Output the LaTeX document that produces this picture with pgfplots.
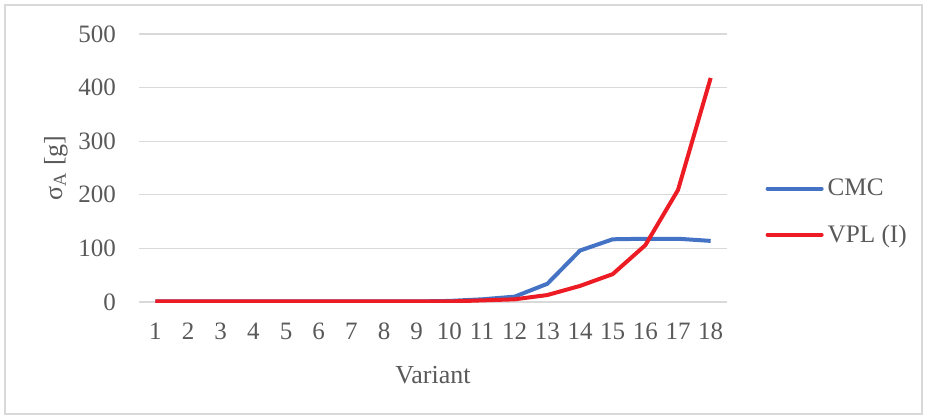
\documentclass[border=0pt]{standalone}
\usepackage{pgfplots}
\pgfplotsset{compat=1.18}
\usepackage{fontspec}
\setmainfont{Liberation Serif}
\definecolor{cmcblue}{HTML}{4472C4}
\definecolor{vplred}{HTML}{ED1C24}
\definecolor{txtgray}{HTML}{595959}
\definecolor{gridgray}{HTML}{D9D9D9}
\begin{document}
\begin{tikzpicture}[x=1pt,y=1pt]
\useasboundingbox (0,0) rectangle (463.5,209.5);
\draw[gridgray, line width=0.6pt] (2.5,2.5) rectangle (461,207);
\begin{axis}[
    at={(69.5pt,58.5pt)}, anchor=south west,
    scale only axis, width=294pt, height=134pt,
    xmin=0.5, xmax=18.5, ymin=0, ymax=500,
    xtick={1,...,18}, ytick={0,100,...,500},
    axis line style={draw=none},
    major tick length=0pt,
    ymajorgrids, grid style={gridgray, line width=0.6pt},
    tick label style={font=\fontsize{12.5}{14}\selectfont, text=txtgray},
    /pgf/number format/assume math mode=true,
    yticklabel style={xshift=-8pt},
    xticklabel style={yshift=-7pt},
    xlabel={Variant}, ylabel={σ\textsubscript{A} [g]},
    label style={font=\fontsize{13}{15}\selectfont, text=txtgray},
    xlabel style={yshift=-6.5pt},
    ylabel style={yshift=-1.5pt},
    legend style={draw=none, fill=none, at={(1.065,0.336)}, anchor=west,
        font=\fontsize{12.6}{14}\selectfont, text=txtgray,
        row sep=9pt, inner sep=0pt},
    legend cell align=left,
    legend image code/.code={\draw[#1, line cap=round] (0pt,0pt) -- (27pt,0pt);},
]
\addplot[cmcblue, line width=2pt, line join=round] coordinates {
(1,1) (2,1) (3,1) (4,1) (5,1) (6,1) (7,1) (8,1) (9,1) (10,2)
(11,5) (12,10) (13,34) (14,96) (15,117) (16,118) (17,118) (18,114)};
\addlegendentry{CMC}
\addplot[vplred, line width=2pt, line join=round] coordinates {
(1,1) (2,1) (3,1) (4,1) (5,1) (6,1) (7,1) (8,1) (9,1) (10,1)
(11,3) (12,5) (13,13) (14,30) (15,52) (16,106) (17,209) (18,418)};
\addlegendentry{VPL (I)}
\end{axis}
\end{tikzpicture}
\end{document}
